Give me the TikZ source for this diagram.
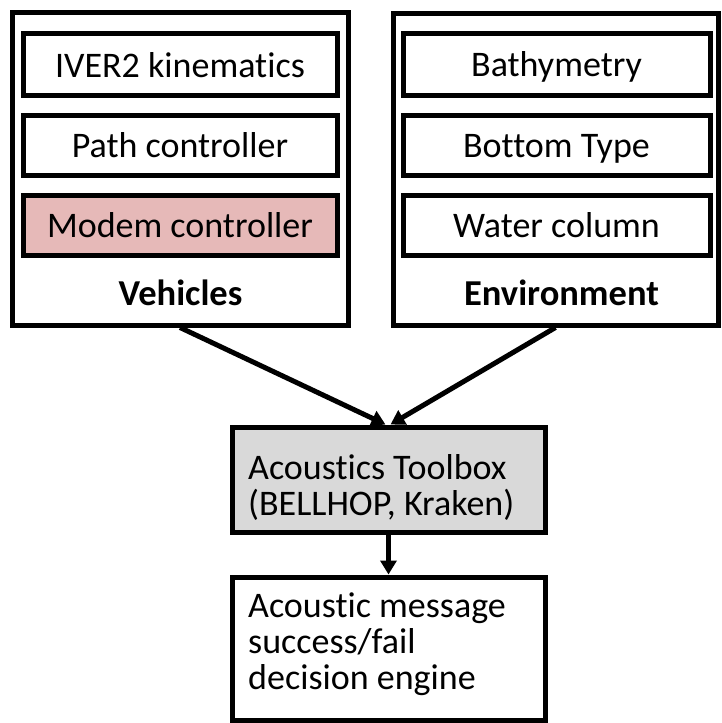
\documentclass[tikz,border=0pt]{standalone}
\usepackage{fontspec}
\setmainfont{Carlito}[Ligatures=NoCommon]
\usetikzlibrary{arrows.meta}
\definecolor{modempink}{HTML}{E6B9B8}
\definecolor{toolgray}{HTML}{D9D9D9}
\begin{document}
\begin{tikzpicture}[x=1pt,y=-1pt,
  frame/.style={draw, line width=5pt, rectangle, inner sep=0pt},
  label/.style={inner sep=0pt, font=\fontsize{36}{36}\selectfont},
  heading/.style={inner sep=0pt, font=\fontsize{36.5}{36}\selectfont\bfseries},
  link/.style={line width=5pt, -{Triangle[length=14pt,width=16pt]}}
]
\useasboundingbox (0,0) rectangle (721,723);

% group frames
\node[frame, minimum width=336pt, minimum height=313pt] (veh) at (180,168.5) {};
\node[frame, minimum width=325pt, minimum height=312pt] (env) at (555.5,169) {};

% vehicle components
\node[frame, minimum width=314pt, minimum height=62pt] (iver) at (180,64) {};
\node[frame, minimum width=314pt, minimum height=60pt] (path) at (180,145) {};
\node[frame, fill=modempink, minimum width=314pt, minimum height=60pt] (modem) at (180,225) {};
\node[label, anchor=base] at (180,77) {IVER2 kinematics};
\node[label, anchor=base] at (180,157) {Path controller};
\node[label, anchor=base] at (180,237) {Modem controller};
\node[heading, anchor=base] at (180.5,305) {Vehicles};

% environment components
\node[frame, minimum width=307pt, minimum height=62pt] (bathy) at (556.5,64) {};
\node[frame, minimum width=307pt, minimum height=60pt] (bottom) at (556.5,145) {};
\node[frame, minimum width=307pt, minimum height=60pt] (water) at (556.5,225) {};
\node[label, anchor=base] at (556.5,76) {Bathymetry};
\node[label, anchor=base] at (556.5,157) {Bottom Type};
\node[label, anchor=base] at (556.5,237) {Water column};
\node[heading, anchor=base] at (561.5,305) {Environment};

% acoustics toolbox
\node[frame, fill=toolgray, minimum width=313pt, minimum height=105pt] (tool) at (388.5,479.5) {};
\node[label, align=left, anchor=west] at (248,487) {Acoustics Toolbox\\(BELLHOP, Kraken)};

% decision engine
\node[frame, minimum width=313pt, minimum height=143pt] (dec) at (388.5,648.5) {};
\node[label, align=left, anchor=west] at (248,644) {Acoustic message\\success/fail\\decision engine};

% data flow
\draw[link] (veh.south) -- ([xshift=-3pt]tool.north);
\draw[link] (env.south) -- ([xshift=2pt]tool.north);
\draw[link] (tool.south) -- (dec.north);
\end{tikzpicture}
\end{document}
